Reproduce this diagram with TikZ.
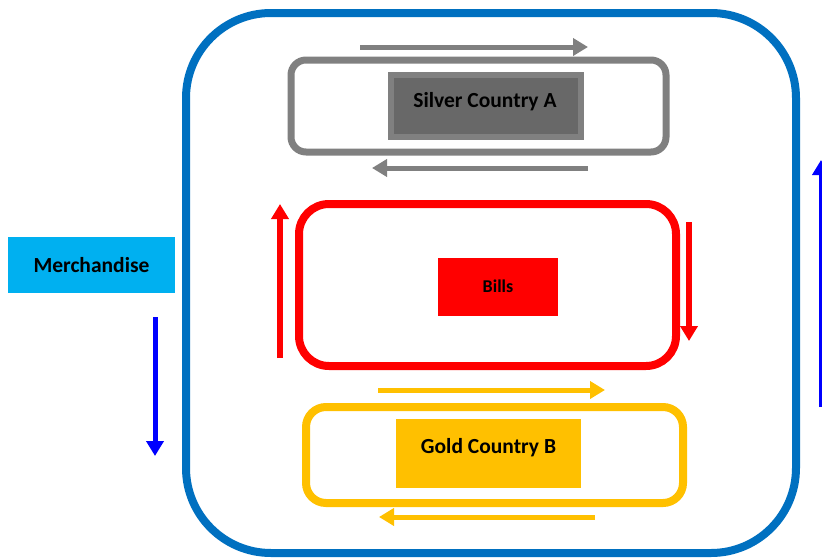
\documentclass[tikz,border=0pt]{standalone}
\usepackage{fontspec}
\setmainfont{Carlito}
\usetikzlibrary{arrows.meta}
\definecolor{outerblue}{HTML}{0070C0}
\definecolor{silverline}{HTML}{808080}
\definecolor{silverfill}{HTML}{686868}
\definecolor{billred}{HTML}{FF0000}
\definecolor{goldc}{HTML}{FFC000}
\definecolor{merch}{HTML}{00B0F0}
\definecolor{flowblue}{HTML}{0000FF}
\tikzset{
  flow/.style={line width=5pt,-{Triangle[width=17pt,length=15pt]}},
  lbl/.style={font=\bfseries\fontsize{21.5}{24}\selectfont,text=black,inner sep=0pt,anchor=center},
}
\begin{document}
\begin{tikzpicture}[x=1pt,y=-1pt]
\useasboundingbox (0,0) rectangle (822,557);
% outer frame
\draw[outerblue,line width=8pt,rounded corners=85pt] (186,13) rectangle (796,553);
% silver
\draw[silverline,line width=7pt,rounded corners=15pt] (291,60) rectangle (666,152);
\node[fill=silverfill,draw=silverline,line width=6pt,minimum width=190pt,minimum height=62pt,inner sep=0pt] (silver) at (486,106) {};
\node[lbl] (silvertext) at (485,102) {Silver Country A};
\coordinate (s1a) at (360,47); \coordinate (s1b) at (588,47);
\coordinate (s2a) at (588,168); \coordinate (s2b) at (372,168);
\draw[flow,silverline] (s1a) -- (s1b);
\draw[flow,silverline] (s2a) -- (s2b);
% bills
\draw[billred,line width=8pt,rounded corners=30pt] (299,204) rectangle (676,366);
\node[fill=billred,minimum width=120pt,minimum height=58pt,inner sep=0pt] (bills) at (498,287) {};
\node[lbl,font=\bfseries\fontsize{18}{20}\selectfont] (billstext) at (498,286) {Bills};
\coordinate (r1a) at (280,358); \coordinate (r1b) at (280,204);
\coordinate (r2a) at (689,222); \coordinate (r2b) at (689,341);
\draw[flow,billred,line width=6pt] (r1a) -- (r1b);
\draw[flow,billred,line width=6pt] (r2a) -- (r2b);
% gold
\draw[goldc,line width=8pt,rounded corners=20pt] (306,407) rectangle (683,503);
\node[fill=goldc,minimum width=185pt,minimum height=69pt,inner sep=0pt] (gold) at (488.5,453.5) {};
\node[lbl] (goldtext) at (488.5,448) {Gold Country B};
\coordinate (g1a) at (378,390); \coordinate (g1b) at (605,390);
\coordinate (g2a) at (595,517); \coordinate (g2b) at (379,517);
\draw[flow,goldc] (g1a) -- (g1b);
\draw[flow,goldc] (g2a) -- (g2b);
% merchandise
\node[fill=merch,minimum width=167pt,minimum height=56pt,inner sep=0pt] (merchbox) at (91.5,265) {};
\node[lbl] (merchtext) at (merchbox.center) {Merchandise};
\coordinate (m1a) at (155,317); \coordinate (m1b) at (155,456);
\draw[flow,flowblue] (m1a) -- (m1b);
\coordinate (m2a) at (821,407); \coordinate (m2b) at (821,160);
\draw[flow,flowblue] (m2a) -- (m2b);
\end{tikzpicture}
\end{document}
